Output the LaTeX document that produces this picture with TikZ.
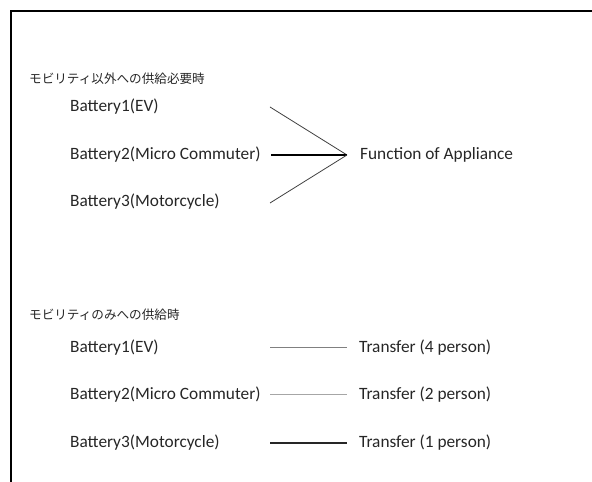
\documentclass[tikz,border=0pt]{standalone}
\usepackage{fontspec}
\setmainfont{Carlito}
\newfontfamily\jpfont{Noto Sans CJK JP}
\begin{document}
\begin{tikzpicture}[x=1pt,y=1pt,
  lbl/.style={anchor=west,inner sep=0pt,font=\fontsize{17.3}{20}\selectfont,text=black!85},
  jlbl/.style={anchor=west,inner sep=0pt,font=\jpfont\fontsize{12.6}{15}\selectfont,text=black!85},
  conn/.style={line width=0.8pt}]
\useasboundingbox (0,0) rectangle (592,482);
\draw[line width=2pt] (11,0) -- (11,470.5) -- (592,470.5);
% upper part
\node[jlbl] (h1) at (29,403) {モビリティ以外への供給必要時};
\node[lbl] (a1) at (70,375) {Battery1(EV)};
\node[lbl] (a2) at (70,327) {Battery2(Micro Commuter)};
\node[lbl] (a3) at (70,280) {Battery3(Motorcycle)};
\node[lbl] (fa) at (360,327) {Function of Appliance};
\coordinate (t) at (347,327);
\coordinate (s1) at (270,375);
\coordinate (s2) at (271,327);
\coordinate (s3) at (270,279);
\draw[conn,black!75] (s1) -- (t);
\draw[conn,line width=1.1pt] (s2) -- (t);
\draw[conn,black!75] (s3) -- (t);
% lower part
\node[jlbl] (h2) at (29,167) {モビリティのみへの供給時};
\node[lbl] (b1) at (70,134) {Battery1(EV)};
\node[lbl] (b2) at (70,87) {Battery2(Micro Commuter)};
\node[lbl] (b3) at (70,39) {Battery3(Motorcycle)};
\node[lbl] (c1) at (359,134) {Transfer (4 person)};
\node[lbl] (c2) at (359,87) {Transfer (2 person)};
\node[lbl] (c3) at (359,39) {Transfer (1 person)};
\coordinate (l1) at (270,134);
\coordinate (r1) at (347,134);
\coordinate (l2) at (270,87);
\coordinate (r2) at (347,87);
\coordinate (l3) at (270,39);
\coordinate (r3) at (347,39);
\draw[line width=1pt,black!50] (l1) -- (r1);
\draw[line width=1pt,black!35] (l2) -- (r2);
\draw[line width=1.1pt,black!85] (l3) -- (r3);
\end{tikzpicture}
\end{document}
